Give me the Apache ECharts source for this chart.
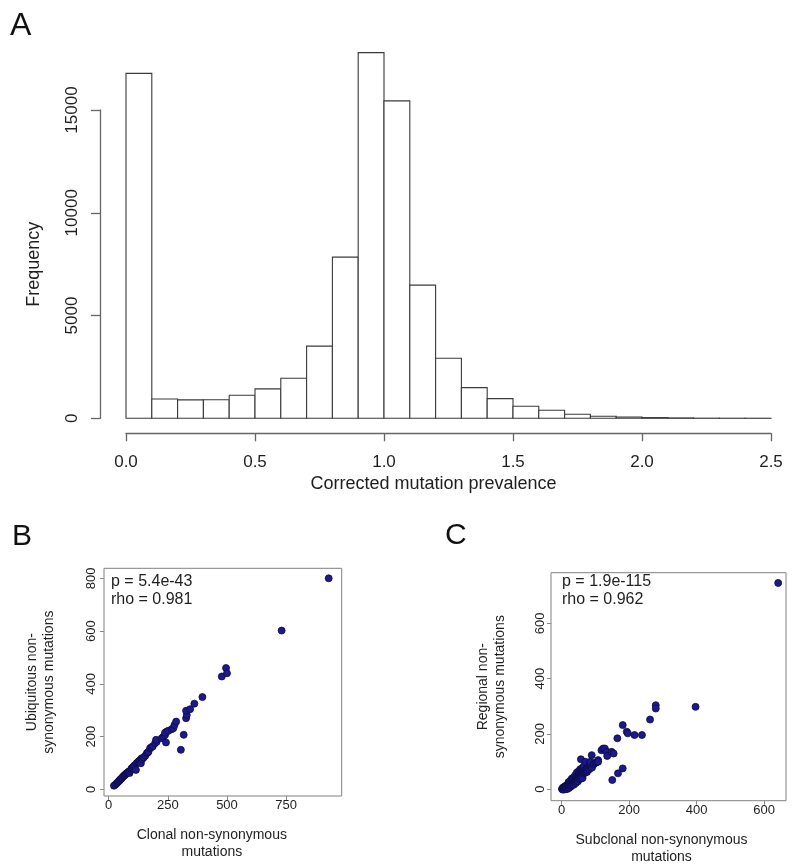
<!DOCTYPE html>
<html>
<head>
<meta charset="utf-8">
<script src="https://cdn.jsdelivr.net/npm/echarts@6/dist/echarts.min.js"></script>
<style>html,body{margin:0;padding:0;background:#fff}#c{width:800px;height:868px}</style>
</head>
<body>
<div id="c"></div>
<script>
// ---------- Panel A: histogram ----------
const binEdges = [0.0,0.1,0.2,0.3,0.4,0.5,0.6,0.7,0.8,0.9,1.0,1.1,1.2,1.3,1.4,1.5,1.6,1.7,1.8,1.9,2.0,2.1,2.2,2.3,2.4,2.5];
const binCounts = [16780,940,895,900,1120,1430,1950,3510,7840,17790,15440,6480,2920,1490,955,585,390,195,100,65,35,20,6,4,3];
const histXTicks = [0,0.5,1.0,1.5,2.0,2.5];
const freqTicks = [0,5000,10000,15000];

// ---------- Panel B ----------
const clonalNS = [22,28,34,38,41,46,48,52,55,58,62,66,69,72,76,80,83,88,90,95,97,100,104,108,111,115,118,122,125,130,132,136,139,142,148,155,161,165,168,175,180,186,196,203,200,224,231,238,242,245,238,252,266,273,278,285,305,317,327,330,327,344,362,396,478,496,500,731,930];
const ubiquitousNS = [14,18,23,27,30,34,37,40,42,46,50,53,55,58,61,64,67,62,70,76,80,82,86,90,92,74,99,102,105,108,111,99,118,115,121,128,137,140,143,156,160,163,175,181,188,194,200,206,178,219,215,222,228,232,244,257,150,207,270,282,298,304,325,350,428,460,440,602,800];
const bTicksX = [0,250,500,750];
const bTicksY = [0,200,400,600,800];

// ---------- Panel C ----------
const subclonalNS = [1,2,3,4,4,5,6,7,8,9,10,10,11,12,13,14,15,16,16,17,18,19,20,20,21,22,22,23,24,25,25,26,27,28,28,29,30,30,31,32,33,34,35,35,36,36,37,38,39,40,40,41,42,42,43,44,45,45,46,47,48,48,49,50,50,51,52,53,54,55,55,56,57,58,58,59,60,60,61,62,62,63,64,65,65,66,68,70,70,72,74,75,76,78,80,82,85,88,90,
  57,70,84,85,89,95,100,103,108,108,118,123,128,133,135,148,154,
  150,167,181,165,181,193,196,216,238,262,279,279,397,642];
const regionalNS = [0,1,4,2,-2,6,3,8,5,2,9,-1,6,12,8,4,14,10,0,7,16,12,9,25,19,14,4,11,22,17,30,13,25,20,10,15,28,38,22,18,31,26,20,42,34,16,29,24,37,32,50,27,40,22,35,30,44,60,38,33,50,28,42,36,65,55,46,40,60,50,72,44,64,54,38,48,68,75,58,52,40,72,62,56,82,66,60,70,60,64,74,62,68,78,84,72,80,86,78,
  108,99,93,99,123,90,95,97,105,99,141,147,147,135,120,135,129,
  33,57,75,184,232,208,202,196,196,252,304,292,298,747];
const cTicks = [0,200,400,600];

const FONT = '"Liberation Sans", Arial, Helvetica, sans-serif';
const TXT = '#1e1e1e';
const AX = '#666';

const histData = binCounts.map((c, i) => [binEdges[i], binEdges[i + 1], c]);
const bData = clonalNS.map((x, i) => [x, ubiquitousNS[i]]);
const cData = subclonalNS.map((x, i) => [x, regionalNS[i]]);

function scatterAxisX(gridIndex, min, max, ticks, name, pad, gap) {
  return {
    type: 'value', gridIndex, min, max,
    axisLine: {show: false, onZero: false},
    splitLine: {show: false},
    axisTick: {show: true, length: 4, customValues: ticks, lineStyle: {color: '#888'}},
    axisLabel: {customValues: ticks, margin: gap, fontFamily: FONT, fontSize: 13, color: TXT},
    name, nameLocation: 'middle', nameGap: 30.5,
    nameTextStyle: {fontFamily: FONT, fontSize: 14, color: TXT, lineHeight: 17, padding: [0, pad, 0, 0]}
  };
}
function scatterAxisY(gridIndex, min, max, ticks, name, nameGap, margin) {
  return {
    type: 'value', gridIndex, min, max,
    axisLine: {show: false, onZero: false},
    splitLine: {show: false},
    axisTick: {show: true, length: 4, customValues: ticks, lineStyle: {color: '#888'}},
    axisLabel: {customValues: ticks, rotate: 90, margin, fontFamily: FONT, fontSize: 13, color: TXT},
    name, nameLocation: 'middle', nameGap,
    nameTextStyle: {fontFamily: FONT, fontSize: 14, color: TXT, lineHeight: 17}
  };
}

const chart = echarts.init(document.getElementById('c'), null, {renderer: 'canvas'});

const option = {
  backgroundColor: '#fff',
  animation: false,
  grid: [
    {left: 126, right: 29, top: 48.3, bottom: 449.7},
    {left: 126, right: 29, top: 110, bottom: 449.7},
    {left: 104, right: 458.3, top: 568.3, bottom: 72, show: true, borderColor: '#808080', borderWidth: 1},
    {left: 551, right: 14, top: 572.7, bottom: 67.3, show: true, borderColor: '#808080', borderWidth: 1}
  ],
  xAxis: [
    {
      type: 'value', gridIndex: 0, min: 0, max: 2.5, interval: 0.5, offset: 15,
      axisLine: {show: true, onZero: false, lineStyle: {color: AX, width: 1.3}},
      axisTick: {show: true, length: 8, lineStyle: {color: AX, width: 1.3}},
      splitLine: {show: false},
      axisLabel: {margin: 21, fontFamily: FONT, fontSize: 17, color: TXT, formatter: v => v.toFixed(1)},
      name: 'Corrected mutation prevalence', nameLocation: 'middle', nameGap: 42,
      nameTextStyle: {fontFamily: FONT, fontSize: 18, color: TXT, padding: [0, 30, 0, 0]}
    },
    {type: 'value', gridIndex: 1, min: 0, max: 2.5, show: false},
    scatterAxisX(2, -20, 985, bTicksX, 'Clonal non-synonymous\nmutations', 22, 3),
    scatterAxisX(3, -31.7, 665.2, cTicks, 'Subclonal non-synonymous\nmutations', 14, 3.5)
  ],
  yAxis: [
    {type: 'value', gridIndex: 0, min: 0, max: 18000, show: false},
    {
      type: 'value', gridIndex: 1, min: 0, max: 15000, interval: 5000, offset: 26,
      axisLine: {show: true, onZero: false, lineStyle: {color: AX, width: 1.3}},
      axisTick: {show: true, length: 9, lineStyle: {color: AX, width: 1.3}},
      splitLine: {show: false},
      axisLabel: {rotate: 90, margin: 19, fontFamily: FONT, fontSize: 17, color: TXT, formatter: v => String(v)},
      name: 'Frequency', nameLocation: 'middle', nameGap: 57,
      nameTextStyle: {fontFamily: FONT, fontSize: 18, color: TXT}
    },
    scatterAxisY(2, -25, 838, bTicksY, 'Ubiquitous non-\nsynonymous mutations', 46.5, 6.5),
    scatterAxisY(3, -42, 784, cTicks, 'Regional non-\nsynonymous mutations', 42.5, 4.5)
  ],
  graphic: [
    {type: 'text', x: 10, y: 26, style: {text: 'A', font: '32px ' + FONT, fill: '#111', verticalAlign: 'middle'}},
    {type: 'text', x: 12, y: 537, style: {text: 'B', font: '30px ' + FONT, fill: '#111', verticalAlign: 'middle'}},
    {type: 'text', x: 445, y: 536, style: {text: 'C', font: '30px ' + FONT, fill: '#111', verticalAlign: 'middle'}},
    {type: 'text', x: 111, y: 582, style: {text: 'p = 5.4e-43', font: '16px ' + FONT, fill: TXT, verticalAlign: 'middle'}},
    {type: 'text', x: 111, y: 600, style: {text: 'rho = 0.981', font: '16px ' + FONT, fill: TXT, verticalAlign: 'middle'}},
    {type: 'text', x: 562, y: 582, style: {text: 'p = 1.9e-115', font: '16px ' + FONT, fill: TXT, verticalAlign: 'middle'}},
    {type: 'text', x: 562, y: 600, style: {text: 'rho = 0.962', font: '16px ' + FONT, fill: TXT, verticalAlign: 'middle'}}
  ],
  series: [
    {
      type: 'custom', xAxisIndex: 0, yAxisIndex: 0, data: histData,
      renderItem: function (params, api) {
        const p0 = api.coord([api.value(0), api.value(2)]);
        const p1 = api.coord([api.value(1), 0]);
        return {
          type: 'rect',
          shape: {x: p0[0], y: p0[1], width: p1[0] - p0[0], height: p1[1] - p0[1]},
          style: {fill: '#fff', stroke: '#3a3a3a', lineWidth: 1.1}
        };
      }
    },
    {
      type: 'scatter', xAxisIndex: 2, yAxisIndex: 2, data: bData, symbolSize: 7,
      itemStyle: {color: '#1a1a8c', borderColor: '#0b0b45', borderWidth: 0.8, opacity: 1}
    },
    {
      type: 'scatter', xAxisIndex: 3, yAxisIndex: 3, data: cData, symbolSize: 7,
      itemStyle: {color: '#1a1a8c', borderColor: '#0b0b45', borderWidth: 0.8, opacity: 1}
    }
  ]
};
chart.setOption(option);
</script>
</body>
</html>
